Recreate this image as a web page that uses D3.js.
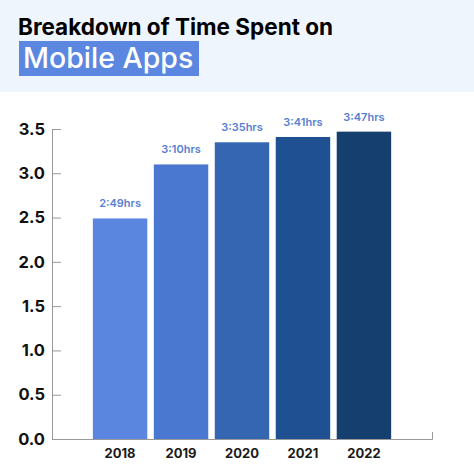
<!DOCTYPE html>
<html>
<head>
<meta charset="utf-8">
<script src="https://cdn.jsdelivr.net/npm/d3@7"></script>
<style>
  body { margin: 0; background: #fff; }
  svg { display: block; font-family: Inter, "Open Sans", sans-serif; }
</style>
</head>
<body>
<svg width="474" height="476"></svg>
<script>
const years = ['2018', '2019', '2020', '2021', '2022'];
const hours = [2.49, 3.10, 3.35, 3.41, 3.47];
const barLabels = ['2:49hrs', '3:10hrs', '3:35hrs', '3:41hrs', '3:47hrs'];
const barColors = ['#5b86e0', '#4a77cf', '#3566b2', '#1f5091', '#143f6f'];
const yTicks = [0, 0.5, 1, 1.5, 2, 2.5, 3, 3.5];

const svg = d3.select('svg');
const width = +svg.attr('width');

const data = years.map((y, i) => ({year: y, value: hours[i], label: barLabels[i], color: barColors[i]}));

// header band
svg.append('rect')
    .attr('x', 0).attr('y', 0)
    .attr('width', width).attr('height', 92)
    .attr('fill', '#eff5fd');

svg.append('text')
    .attr('x', 18).attr('y', 35)
    .attr('font-size', 22.5)
    .attr('font-weight', 700)
    .attr('fill', '#000')
    .text('Breakdown of Time Spent on');

svg.append('rect')
    .attr('x', 19).attr('y', 41)
    .attr('width', 180).attr('height', 35)
    .attr('fill', '#5b87e0');

svg.append('text')
    .attr('x', 23).attr('y', 67.5)
    .attr('font-size', 28.5)
    .attr('font-weight', 500)
    .attr('fill', '#fff')
    .text('Mobile Apps');

// chart
const xScale = d3.scaleBand()
    .domain(years)
    .range([52, 432])
    .paddingInner(0.107)
    .paddingOuter(0.67);

const yScale = d3.scaleLinear()
    .domain([0, 3.5])
    .range([439, 129]);

const g = svg.append('g');

g.selectAll('rect.bar').data(data)
    .enter().append('rect')
        .attr('class', 'bar')
        .attr('x', d => xScale(d.year))
        .attr('y', d => yScale(d.value))
        .attr('width', xScale.bandwidth())
        .attr('height', d => yScale(0) - yScale(d.value))
        .attr('fill', d => d.color);

g.selectAll('text.val').data(data)
    .enter().append('text')
        .attr('class', 'val')
        .attr('x', d => xScale(d.year) + xScale.bandwidth() / 2)
        .attr('y', d => yScale(d.value) - 11)
        .attr('text-anchor', 'middle')
        .attr('font-size', 11)
        .attr('font-weight', 600)
        .attr('fill', '#5a7fd1')
        .text(d => d.label);

// y axis
const yAxisG = svg.append('g')
    .attr('transform', 'translate(52,0)')
    .call(d3.axisLeft(yScale)
        .tickValues(yTicks)
        .tickFormat(d3.format('.1f'))
        .tickSize(-9)
        .tickSizeOuter(0)
        .tickPadding(7));

yAxisG.selectAll('.domain, .tick line').attr('stroke', '#999');
yAxisG.selectAll('.tick text')
    .attr('font-size', 16.5)
    .attr('font-weight', 700)
    .attr('fill', '#111')
    .attr('font-family', 'Inter, sans-serif');

// x axis
const xAxisG = svg.append('g')
    .attr('transform', 'translate(0,439)')
    .call(d3.axisBottom(xScale)
        .tickSizeInner(0)
        .tickSizeOuter(-7)
        .tickPadding(10));

xAxisG.select('.domain').attr('stroke', '#999');
xAxisG.selectAll('.tick text')
    .attr('font-size', 13)
    .attr('font-weight', 700)
    .attr('fill', '#1a1a1a')
    .attr('font-family', 'Inter, sans-serif');
</script>
</body>
</html>
